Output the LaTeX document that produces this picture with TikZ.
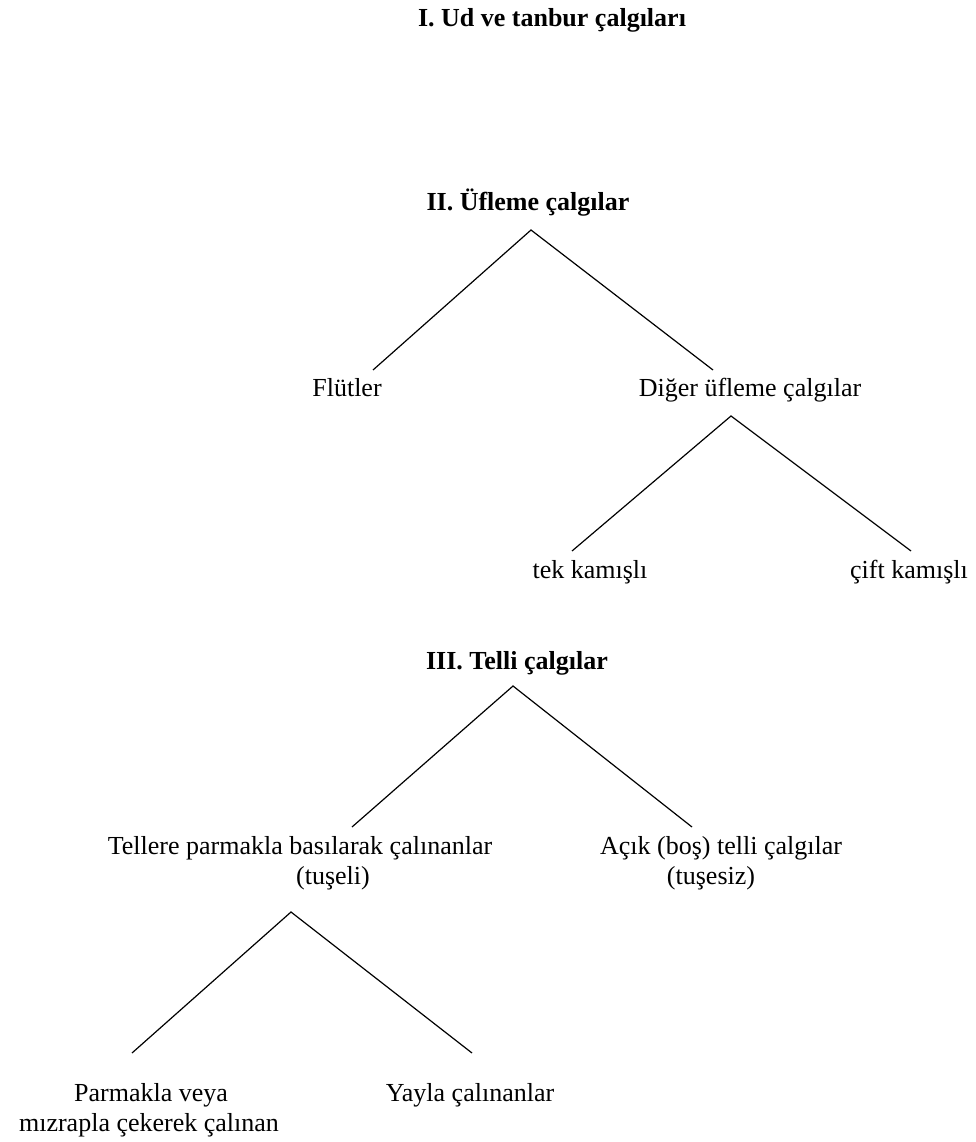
\documentclass[tikz,border=0pt]{standalone}
\usepackage{fontspec}
\setmainfont{Liberation Serif}
\begin{document}
\begin{tikzpicture}[x=1pt,y=-1pt,
  lbl/.style={anchor=base,inner sep=0pt,font=\fontsize{26}{30}\selectfont},
  ttl/.style={lbl,font=\fontsize{26}{30}\selectfont\bfseries},
  two/.style={lbl,align=center},
  branch/.style={draw=black,line width=1.2pt}]
\useasboundingbox (0,0) rectangle (976,1142);
% titles
\node[ttl] (t1) at (552,27) {I. Ud ve tanbur çalgıları};
\node[ttl] (t2) at (528,211) {II. Üfleme çalgılar};
\node[ttl] (t3) at (517,669) {III. Telli çalgılar};
% under II
\node[lbl] (flut) at (347,396) {Flütler};
\node[lbl] (diger) at (750,396) {Diğer üfleme çalgılar};
\node[lbl] (tek) at (590,578) {tek kamışlı};
\node[lbl] (cift) at (909,578) {çift kamışlı};
% under III (anchor base = baseline of the last line)
\node[two] (tusli) at (300,884) {Tellere parmakla basılarak çalınanlar\\\hspace*{66pt}(tuşeli)};
\node[two] (acik) at (721,884) {Açık (boş) telli çalgılar\\(tuşesiz)\hspace*{20pt}};
\node[two] (parm) at (149,1131) {\hspace*{4pt}Parmakla veya\\mızrapla çekerek çalınan};
\node[lbl] (yayla) at (470,1101) {Yayla çalınanlar};
% branch points
\coordinate (a2) at (531,230);
\coordinate (a2l) at (373,370);
\coordinate (a2r) at (713,370);
\coordinate (ad) at (731,416);
\coordinate (adl) at (572,551);
\coordinate (adr) at (911,551);
\coordinate (a3) at (513,686);
\coordinate (a3l) at (352,827);
\coordinate (a3r) at (692,827);
\coordinate (at) at (291,912);
\coordinate (atl) at (132,1053);
\coordinate (atr) at (472,1053);
\draw[branch] (a2l) -- (a2) -- (a2r);
\draw[branch] (adl) -- (ad) -- (adr);
\draw[branch] (a3l) -- (a3) -- (a3r);
\draw[branch] (atl) -- (at) -- (atr);
\end{tikzpicture}
\end{document}
